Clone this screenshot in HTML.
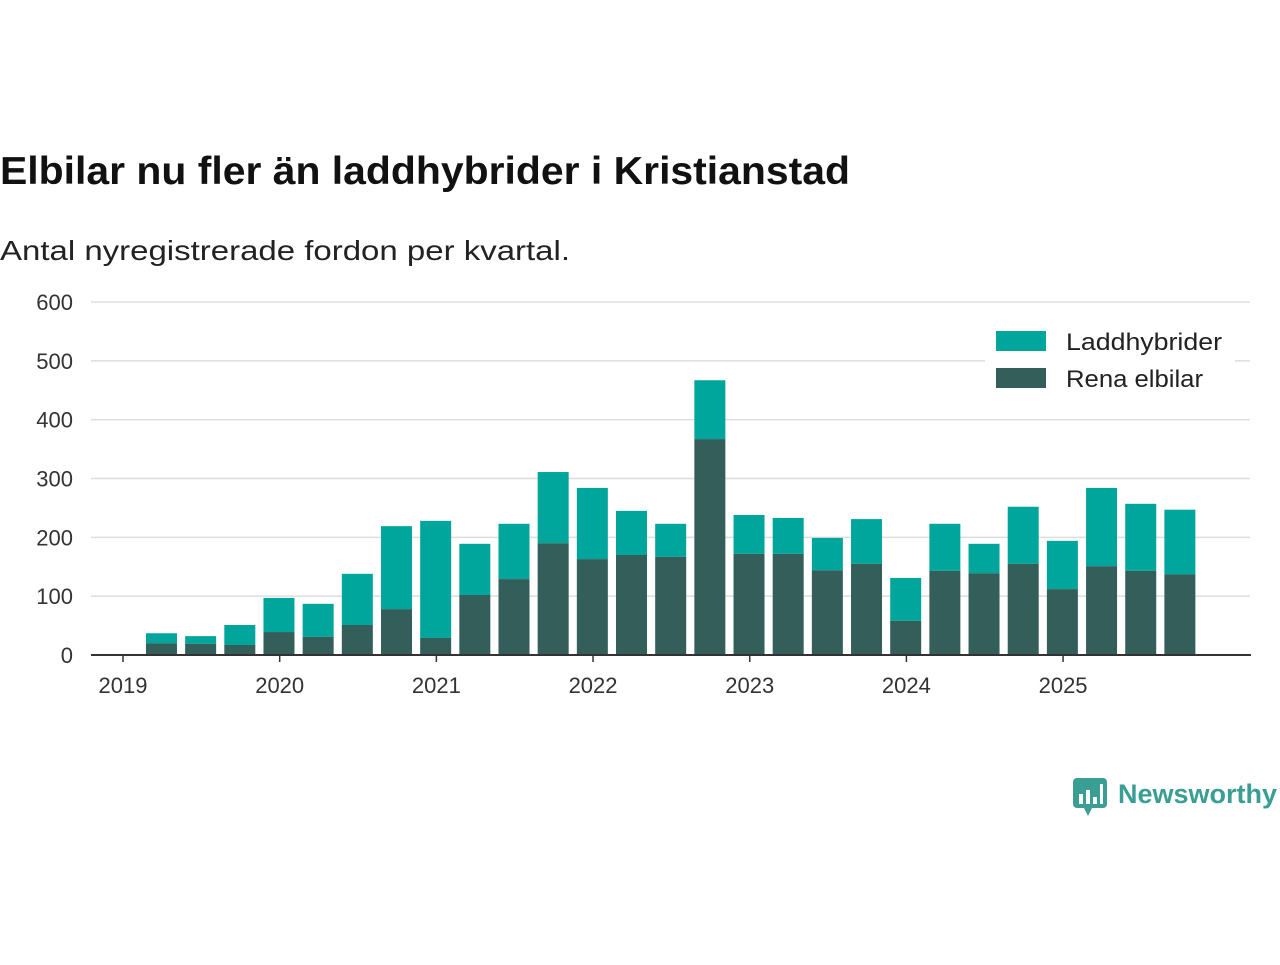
<!DOCTYPE html>
<html><head><meta charset="utf-8"><style>
body{margin:0;background:#fff;font-family:"Liberation Sans",sans-serif;}
svg text{font-family:"Liberation Sans",sans-serif;}
</style></head><body>
<svg width="1280" height="960" viewBox="0 0 1280 960">
<text x="0" y="184" font-size="39" font-weight="bold" fill="#111" textLength="850" lengthAdjust="spacingAndGlyphs">Elbilar nu fler än laddhybrider i Kristianstad</text>
<text x="0" y="260" font-size="28" fill="#222" textLength="570" lengthAdjust="spacingAndGlyphs">Antal nyregistrerade fordon per kvartal.</text>
<g id="grid"></g><g id="bars"></g><g id="axes"></g>
<g>
<rect x="985" y="324" width="250" height="72" fill="#fff"/>
<rect x="996" y="331" width="50" height="20" fill="#00a69c"/>
<text x="1066" y="350" font-size="24" fill="#222" textLength="156" lengthAdjust="spacingAndGlyphs">Laddhybrider</text>
<rect x="996" y="368" width="50" height="20" fill="#335e5a"/>
<text x="1066" y="387" font-size="24" fill="#222" textLength="137" lengthAdjust="spacingAndGlyphs">Rena elbilar</text>
</g>
<g>
<rect x="1073" y="778" width="34" height="30" rx="4" fill="#3a9e95"/>
<polygon points="1084,808 1092,808 1088,816" fill="#3a9e95"/>
<rect x="1079" y="794" width="4" height="10" fill="#fff"/><rect x="1086" y="790" width="4" height="14" fill="#fff"/><rect x="1093" y="797" width="4" height="7" fill="#fff"/><rect x="1100" y="784" width="3" height="20" fill="#fff"/>
<text x="1118" y="803" font-size="27" font-weight="bold" fill="#3a9e95">Newsworthy</text>
</g>
</svg>
<script>
const NS="http://www.w3.org/2000/svg";
const totals=[37,32,51,97,87,138,219,228,189,223,311,284,245,223,467,238,233,199,231,131,223,189,252,194,284,257,247];
const elbilar=[20,19,17,39,31,51,78,29,102,129,190,163,170,167,367,172,172,144,155,58,143,139,155,112,151,143,137];
const yTicks=[0,100,200,300,400,500,600];
const years=["2019","2020","2021","2022","2023","2024","2025"];
const y=v=>655-v*(353/600);
const x=q=>123+q*39.17;
function mk(t,a,p){const e=document.createElementNS(NS,t);for(const k in a)e.setAttribute(k,a[k]);p.appendChild(e);return e;}
const grid=document.getElementById('grid'),bars=document.getElementById('bars'),axes=document.getElementById('axes');
yTicks.forEach(v=>{
 if(v>0){const l=mk('line',{x1:91,x2:1250,y1:y(v),y2:y(v),stroke:'#ddd','stroke-width':1.5},grid);
 
 }
 const t=mk('text',{x:73,y:y(v)+8,'font-size':22,fill:'#333','text-anchor':'end'},axes);t.textContent=v;
 
 
});
totals.forEach((tot,i)=>{
 const cx=x(i+1)-0.7,w=31;
 const r1=mk('rect',{x:cx-w/2,y:y(tot),width:w,height:y(elbilar[i])-y(tot),fill:'#00a69c'},bars);
 
 
 const r2=mk('rect',{x:cx-w/2,y:y(elbilar[i]),width:w,height:y(0)-y(elbilar[i]),fill:'#335e5a'},bars);
 
 
});
const ax=mk('line',{x1:91,x2:1251,y1:655,y2:655,stroke:'#333','stroke-width':2},axes);


years.forEach((yr,i)=>{
 const px=x(i*4);
 mk('line',{x1:px,x2:px,y1:655,y2:662,stroke:'#333','stroke-width':1.5},axes);
 const t=mk('text',{x:px,y:693,'font-size':22,fill:'#333','text-anchor':'middle'},axes);t.textContent=yr;
 
 
});
</script>
</body></html>
